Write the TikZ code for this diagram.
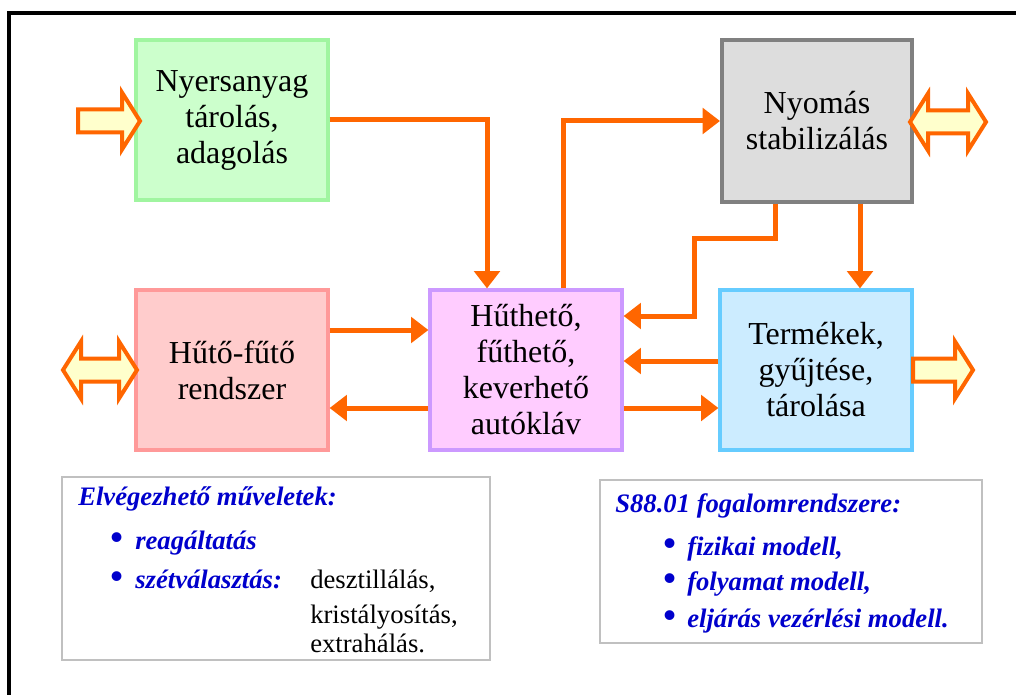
\documentclass[tikz,border=0pt]{standalone}
\usepackage{fontspec}
\setmainfont{Liberation Serif}
\usetikzlibrary{arrows.meta,calc}

\definecolor{flowor}{HTML}{FF6600}
\definecolor{arrowfill}{HTML}{FFFFCC}
\definecolor{textblue}{HTML}{0000CC}
\definecolor{framegray}{HTML}{C0C0C0}

\tikzset{
  unit/.style={draw, line width=2.4pt, align=center, inner sep=2pt,
    font=\fontsize{24}{27}\selectfont, minimum width=144pt, minimum height=120pt},
  flow/.style={draw=flowor, line width=3.75pt,
    -{Triangle[length=13pt,width=19pt]}},
  bigarrow/.style={draw=flowor, fill=arrowfill, line width=3pt, line join=miter},
  infobox/.style={draw=framegray, line width=2.2pt, fill=white},
  head/.style={anchor=base west, inner sep=0pt, text=textblue,
    font=\fontsize{20}{24}\selectfont\bfseries\itshape},
  item/.style={anchor=base west, inner sep=0pt, text=textblue,
    font=\fontsize{20}{24}\selectfont\bfseries\itshape},
  dot/.style={anchor=base west, inner sep=0pt, text=textblue,
    font=\fontsize{27}{24}\selectfont\bfseries},
  plain/.style={anchor=base west, inner sep=0pt,
    font=\fontsize{20}{24}\selectfont}
}

% single block arrow pointing right: left x, tip x, centre y
\newcommand{\blockarrowright}[3]{%
  \draw[bigarrow] (#1,{#3-11.5}) -- ({#2-18},{#3-11.5}) -- ({#2-18},{#3-28.5})
    -- (#2,#3) -- ({#2-18},{#3+28.5}) -- ({#2-18},{#3+11.5}) -- (#1,{#3+11.5}) -- cycle;}
% double block arrow: left tip x, right tip x, centre y
\newcommand{\blockarrowboth}[3]{%
  \draw[bigarrow] (#1,#3) -- ({#1+18},{#3-28.5}) -- ({#1+18},{#3-11.5})
    -- ({#2-18},{#3-11.5}) -- ({#2-18},{#3-28.5}) -- (#2,#3)
    -- ({#2-18},{#3+28.5}) -- ({#2-18},{#3+11.5}) -- ({#1+18},{#3+11.5})
    -- ({#1+18},{#3+28.5}) -- cycle;}

\begin{document}
\begin{tikzpicture}[x=0.75pt,y=-0.75pt]
\useasboundingbox (0,0) rectangle (1016,695);
\fill[white] (0,0) rectangle (1016,695);

% outer frame
\draw[line width=3pt] (9,700) -- (9,13) -- (1020,13);

% units
\node[unit, fill={rgb,255:red,204;green,255;blue,204}, draw={rgb,255:red,160;green,245;blue,160}]
  (raw) at (232,120) {Nyersanyag\\tárolás,\\adagolás};
\node[unit, fill={rgb,255:red,221;green,221;blue,221}, draw={rgb,255:red,128;green,128;blue,128},
  line width=3pt, minimum width=142.5pt, minimum height=121.5pt]
  (press) at (817,121) {Nyomás\\stabilizálás};
\node[unit, fill={rgb,255:red,255;green,204;blue,204}, draw={rgb,255:red,255;green,153;blue,153}]
  (heat) at (232,370) {Hűtő-fűtő\\rendszer};
\node[unit, fill={rgb,255:red,255;green,204;blue,255}, draw={rgb,255:red,204;green,153;blue,255}]
  (auto) at (526,370) {Hűthető,\\fűthető,\\keverhető\\autókláv};
\node[unit, fill={rgb,255:red,204;green,236;blue,255}, draw={rgb,255:red,102;green,204;blue,255}]
  (prod) at (816,370) {Termékek,\\gyűjtése,\\tárolása};

% material flows
\draw[flow] (raw.east) -| ($(auto.north)+(-39,0)$);
\draw[flow] ($(auto.north)+(37,0)$) |- (press.west);
\draw[flow] ($(press.south)+(-42,0)$) -- ++(0,34) -| ($(auto.east)+(71,-54)$)
  -- ($(auto.east)+(0,-54)$);
\draw[flow] ($(press.south)+(43,0)$) -- ($(prod.north)+(44,0)$);
\draw[flow] ($(prod.west)+(0,-9)$) -- ($(auto.east)+(0,-9)$);
\draw[flow] ($(auto.east)+(0,38)$) -- ($(prod.west)+(0,38)$);
\draw[flow] ($(heat.east)+(0,-40)$) -- ($(auto.west)+(0,-40)$);
\draw[flow] ($(auto.west)+(0,38)$) -- ($(heat.east)+(0,38)$);

% external connections
\blockarrowright{78}{140}{121}
\blockarrowboth{63}{137}{370}
\blockarrowboth{910}{986}{122}
\blockarrowright{913}{973}{370}

% operations box
\node[infobox, minimum width=321pt, minimum height=137.25pt] (ops) at (276,568.5) {};
\node[head] (opshead) at (78,505) {Elvégezhető műveletek:};
\node[dot] (opsd1) at (110,549) {•};
\node[item] (ops1) at (135,549) {reagáltatás};
\node[dot] (opsd2) at (110,588) {•};
\node[item] (ops2) at (135,588) {szétválasztás:};
\node[plain] (sep1) at (310,588) {desztillálás,};
\node[plain] (sep2) at (310,623) {kristályosítás,};
\node[plain] (sep3) at (310,652) {extrahálás.};

% S88.01 box
\node[infobox, minimum width=286.5pt, minimum height=122.25pt] (s88) at (791,561.5) {};
\node[head] (s88head) at (615,512) {S88.01 fogalomrendszere:};
\node[dot] (s88d1) at (663,555) {•};
\node[item] (s881) at (687,555) {fizikai modell,};
\node[dot] (s88d2) at (663,590) {•};
\node[item] (s882) at (687,590) {folyamat modell,};
\node[dot] (s88d3) at (663,627) {•};
\node[item] (s883) at (687,627) {eljárás vezérlési modell.};
\end{tikzpicture}
\end{document}
